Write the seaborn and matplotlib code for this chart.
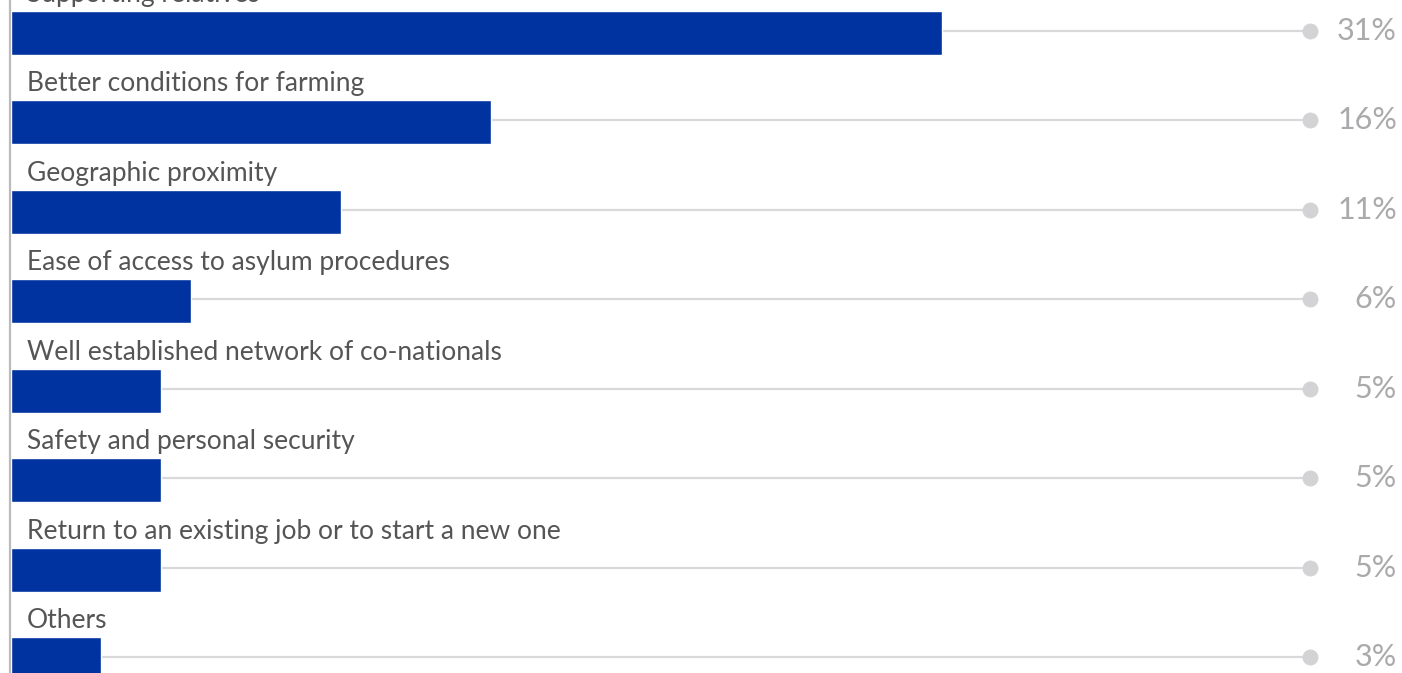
import matplotlib
matplotlib.use("Agg")
import matplotlib.pyplot as plt
import seaborn as sns
import pandas as pd

# Reasons for choosing the destination, share of respondents (%)
reasons = [
    "Supporting relatives",
    "Better conditions for farming",
    "Geographic proximity",
    "Ease of access to asylum procedures",
    "Well established network of co-nationals",
    "Safety and personal security",
    "Return to an existing job or to start a new one",
    "Others",
]
shares = [31, 16, 11, 6, 5, 5, 5, 3]
share_labels = ["31%", "16%", "11%", "6%", "5%", "5%", "5%", "3%"]

df = pd.DataFrame({"reason": reasons, "share": shares})

sns.set_theme(style="white")
plt.rcParams["font.family"] = ["Lato", "DejaVu Sans"]

BAR_BLUE = "#0033a0"
TRACK_GREY = "#d9d9d9"
DOT_GREY = "#d3d3d5"
TEXT_DARK = "#555555"
TEXT_LIGHT = "#aaaaac"

fig = plt.figure(figsize=(14.02, 6.73), dpi=100)
ax = fig.add_axes([0, 0, 1, 1])

px_per_unit = 30.03
x_left = -11 / px_per_unit
x_right = (1402 - 11) / px_per_unit
dot_x = (1310 - 11) / px_per_unit
label_x = (1397 - 11) / px_per_unit
text_x = (27 - 11) / px_per_unit

row_px = 89.43
y_top = -33 / row_px
y_bottom = 7 + 14 / row_px

# Grey tracks ending in a dot, drawn behind the bars
for i in range(len(reasons)):
    yy = i - 2 / row_px
    ax.plot([0, dot_x], [yy, yy], color=TRACK_GREY, lw=1.6, zorder=1,
            solid_capstyle="butt")
    ax.plot([dot_x], [yy], marker="o", ms=11.5, color=DOT_GREY,
            markeredgewidth=0, zorder=2)
    ax.text(label_x, yy, share_labels[i], ha="right", va="center",
            fontsize=22, color=TEXT_LIGHT, zorder=3)
    ax.text(text_x, i - 31 / row_px, reasons[i], ha="left", va="baseline",
            fontsize=19, color=TEXT_DARK, zorder=3)

sns.barplot(data=df, x="share", y="reason", orient="h", color=BAR_BLUE,
            saturation=1, width=44 / row_px, ax=ax, zorder=4)

ax.axvline(-1.5 / px_per_unit, color="#bbbbbb", lw=1.6, zorder=5)

ax.set_xlim(x_left, x_right)
ax.set_ylim(y_bottom, y_top)
ax.set_xlabel("")
ax.set_ylabel("")
ax.set_xticks([])
ax.set_yticks([])
for s in ax.spines.values():
    s.set_visible(False)

fig.savefig("out.png", dpi=100, facecolor="white")
